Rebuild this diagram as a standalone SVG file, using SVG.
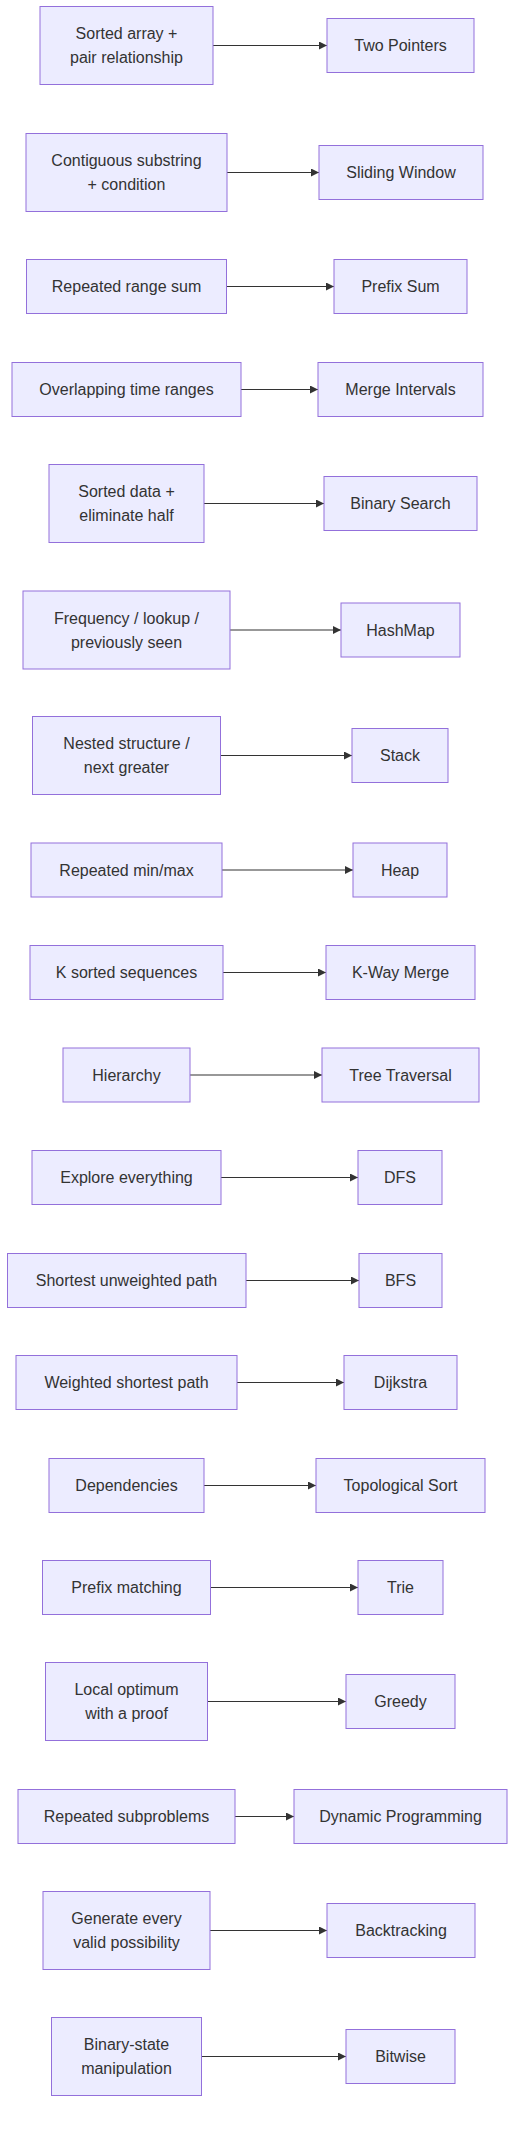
<svg xmlns="http://www.w3.org/2000/svg" width="530" height="2134" viewBox="0 0 530 2134">
<style>
.node rect{fill:#ECECFF;stroke:#9370DB;stroke-width:1px}
.node text{font-family:"Liberation Sans",Arial,sans-serif;font-size:16px;fill:#333333;text-anchor:middle}
.edges line{stroke:#333333;stroke-width:1.2px;fill:none}
</style>
<defs>
<marker id="arrow" viewBox="0 0 10 10" refX="10" refY="5" markerUnits="userSpaceOnUse" markerWidth="8" markerHeight="8" orient="auto">
<path d="M0,0 L10,5 L0,10 z" fill="#333333"/>
</marker>
</defs>
<rect width="530" height="2134" fill="#ffffff"/>
<g class="edges">
<line x1="213" y1="45.5" x2="327" y2="45.5" marker-end="url(#arrow)"/>
<line x1="227" y1="172.5" x2="319" y2="172.5" marker-end="url(#arrow)"/>
<line x1="226.5" y1="286.5" x2="334" y2="286.5" marker-end="url(#arrow)"/>
<line x1="241" y1="389.5" x2="318" y2="389.5" marker-end="url(#arrow)"/>
<line x1="204" y1="503.5" x2="324" y2="503.5" marker-end="url(#arrow)"/>
<line x1="230" y1="630" x2="341" y2="630" marker-end="url(#arrow)"/>
<line x1="220.5" y1="755.5" x2="352" y2="755.5" marker-end="url(#arrow)"/>
<line x1="222" y1="870" x2="353" y2="870" marker-end="url(#arrow)"/>
<line x1="223" y1="972.5" x2="326" y2="972.5" marker-end="url(#arrow)"/>
<line x1="190" y1="1075" x2="322" y2="1075" marker-end="url(#arrow)"/>
<line x1="221" y1="1177.5" x2="358" y2="1177.5" marker-end="url(#arrow)"/>
<line x1="246" y1="1280.5" x2="359" y2="1280.5" marker-end="url(#arrow)"/>
<line x1="237" y1="1382.5" x2="344" y2="1382.5" marker-end="url(#arrow)"/>
<line x1="204" y1="1485.5" x2="316" y2="1485.5" marker-end="url(#arrow)"/>
<line x1="210.5" y1="1587.5" x2="358" y2="1587.5" marker-end="url(#arrow)"/>
<line x1="207.5" y1="1701.5" x2="346" y2="1701.5" marker-end="url(#arrow)"/>
<line x1="235" y1="1816.5" x2="294" y2="1816.5" marker-end="url(#arrow)"/>
<line x1="210" y1="1930.5" x2="327" y2="1930.5" marker-end="url(#arrow)"/>
<line x1="201.5" y1="2056.5" x2="346" y2="2056.5" marker-end="url(#arrow)"/>
</g>
<g id="A1" class="node"><rect x="40" y="6.5" width="173" height="78"/><text x="126.5" y="39">Sorted array +</text><text x="126.5" y="63">pair relationship</text></g>
<g id="B1" class="node"><rect x="327" y="18.5" width="147" height="54"/><text x="400.5" y="51">Two Pointers</text></g>
<g id="A2" class="node"><rect x="26" y="133.5" width="201" height="78"/><text x="126.5" y="166">Contiguous substring</text><text x="126.5" y="190">+ condition</text></g>
<g id="B2" class="node"><rect x="319" y="145.5" width="164" height="54"/><text x="401" y="178">Sliding Window</text></g>
<g id="A3" class="node"><rect x="26.5" y="259.5" width="200" height="54"/><text x="126.5" y="292">Repeated range sum</text></g>
<g id="B3" class="node"><rect x="334" y="259.5" width="133" height="54"/><text x="400.5" y="292">Prefix Sum</text></g>
<g id="A4" class="node"><rect x="12" y="362.5" width="229" height="54"/><text x="126.5" y="395">Overlapping time ranges</text></g>
<g id="B4" class="node"><rect x="318" y="362.5" width="165" height="54"/><text x="400.5" y="395">Merge Intervals</text></g>
<g id="A5" class="node"><rect x="49" y="464.5" width="155" height="78"/><text x="126.5" y="497">Sorted data +</text><text x="126.5" y="521">eliminate half</text></g>
<g id="B5" class="node"><rect x="324" y="476.5" width="153" height="54"/><text x="400.5" y="509">Binary Search</text></g>
<g id="A6" class="node"><rect x="23" y="591" width="207" height="78"/><text x="126.5" y="623.5">Frequency / lookup /</text><text x="126.5" y="647.5">previously seen</text></g>
<g id="B6" class="node"><rect x="341" y="603" width="119" height="54"/><text x="400.5" y="635.5">HashMap</text></g>
<g id="A7" class="node"><rect x="32.5" y="716.5" width="188" height="78"/><text x="126.5" y="749">Nested structure /</text><text x="126.5" y="773">next greater</text></g>
<g id="B7" class="node"><rect x="352" y="728.5" width="96" height="54"/><text x="400" y="761">Stack</text></g>
<g id="A8" class="node"><rect x="31" y="843" width="191" height="54"/><text x="126.5" y="875.5">Repeated min/max</text></g>
<g id="B8" class="node"><rect x="353" y="843" width="94" height="54"/><text x="400" y="875.5">Heap</text></g>
<g id="A9" class="node"><rect x="30" y="945.5" width="193" height="54"/><text x="126.5" y="978">K sorted sequences</text></g>
<g id="B9" class="node"><rect x="326" y="945.5" width="149" height="54"/><text x="400.5" y="978">K-Way Merge</text></g>
<g id="A10" class="node"><rect x="63" y="1048" width="127" height="54"/><text x="126.5" y="1080.5">Hierarchy</text></g>
<g id="B10" class="node"><rect x="322" y="1048" width="157" height="54"/><text x="400.5" y="1080.5">Tree Traversal</text></g>
<g id="A11" class="node"><rect x="32" y="1150.5" width="189" height="54"/><text x="126.5" y="1183">Explore everything</text></g>
<g id="B11" class="node"><rect x="358" y="1150.5" width="84" height="54"/><text x="400" y="1183">DFS</text></g>
<g id="A12" class="node"><rect x="7.5" y="1253.5" width="238.5" height="54"/><text x="126.5" y="1286">Shortest unweighted path</text></g>
<g id="B12" class="node"><rect x="359" y="1253.5" width="83" height="54"/><text x="400.5" y="1286">BFS</text></g>
<g id="A13" class="node"><rect x="16" y="1355.5" width="221" height="54"/><text x="126.5" y="1388">Weighted shortest path</text></g>
<g id="B13" class="node"><rect x="344" y="1355.5" width="113" height="54"/><text x="400.5" y="1388">Dijkstra</text></g>
<g id="A14" class="node"><rect x="49" y="1458.5" width="155" height="54"/><text x="126.5" y="1491">Dependencies</text></g>
<g id="B14" class="node"><rect x="316" y="1458.5" width="169" height="54"/><text x="400.5" y="1491">Topological Sort</text></g>
<g id="A15" class="node"><rect x="42.5" y="1560.5" width="168" height="54"/><text x="126.5" y="1593">Prefix matching</text></g>
<g id="B15" class="node"><rect x="358" y="1560.5" width="85" height="54"/><text x="400.5" y="1593">Trie</text></g>
<g id="A16" class="node"><rect x="45.5" y="1662.5" width="162" height="78"/><text x="126.5" y="1695">Local optimum</text><text x="126.5" y="1719">with a proof</text></g>
<g id="B16" class="node"><rect x="346" y="1674.5" width="109" height="54"/><text x="400.5" y="1707">Greedy</text></g>
<g id="A17" class="node"><rect x="18" y="1789.5" width="217" height="54"/><text x="126.5" y="1822">Repeated subproblems</text></g>
<g id="B17" class="node"><rect x="294" y="1789.5" width="213" height="54"/><text x="400.5" y="1822">Dynamic Programming</text></g>
<g id="A18" class="node"><rect x="43" y="1891.5" width="167" height="78"/><text x="126.5" y="1924">Generate every</text><text x="126.5" y="1948">valid possibility</text></g>
<g id="B18" class="node"><rect x="327" y="1903.5" width="148" height="54"/><text x="401" y="1936">Backtracking</text></g>
<g id="A19" class="node"><rect x="51.5" y="2017.5" width="150" height="78"/><text x="126.5" y="2050">Binary-state</text><text x="126.5" y="2074">manipulation</text></g>
<g id="B19" class="node"><rect x="346" y="2029.5" width="109" height="54"/><text x="400.5" y="2062">Bitwise</text></g>
</svg>
